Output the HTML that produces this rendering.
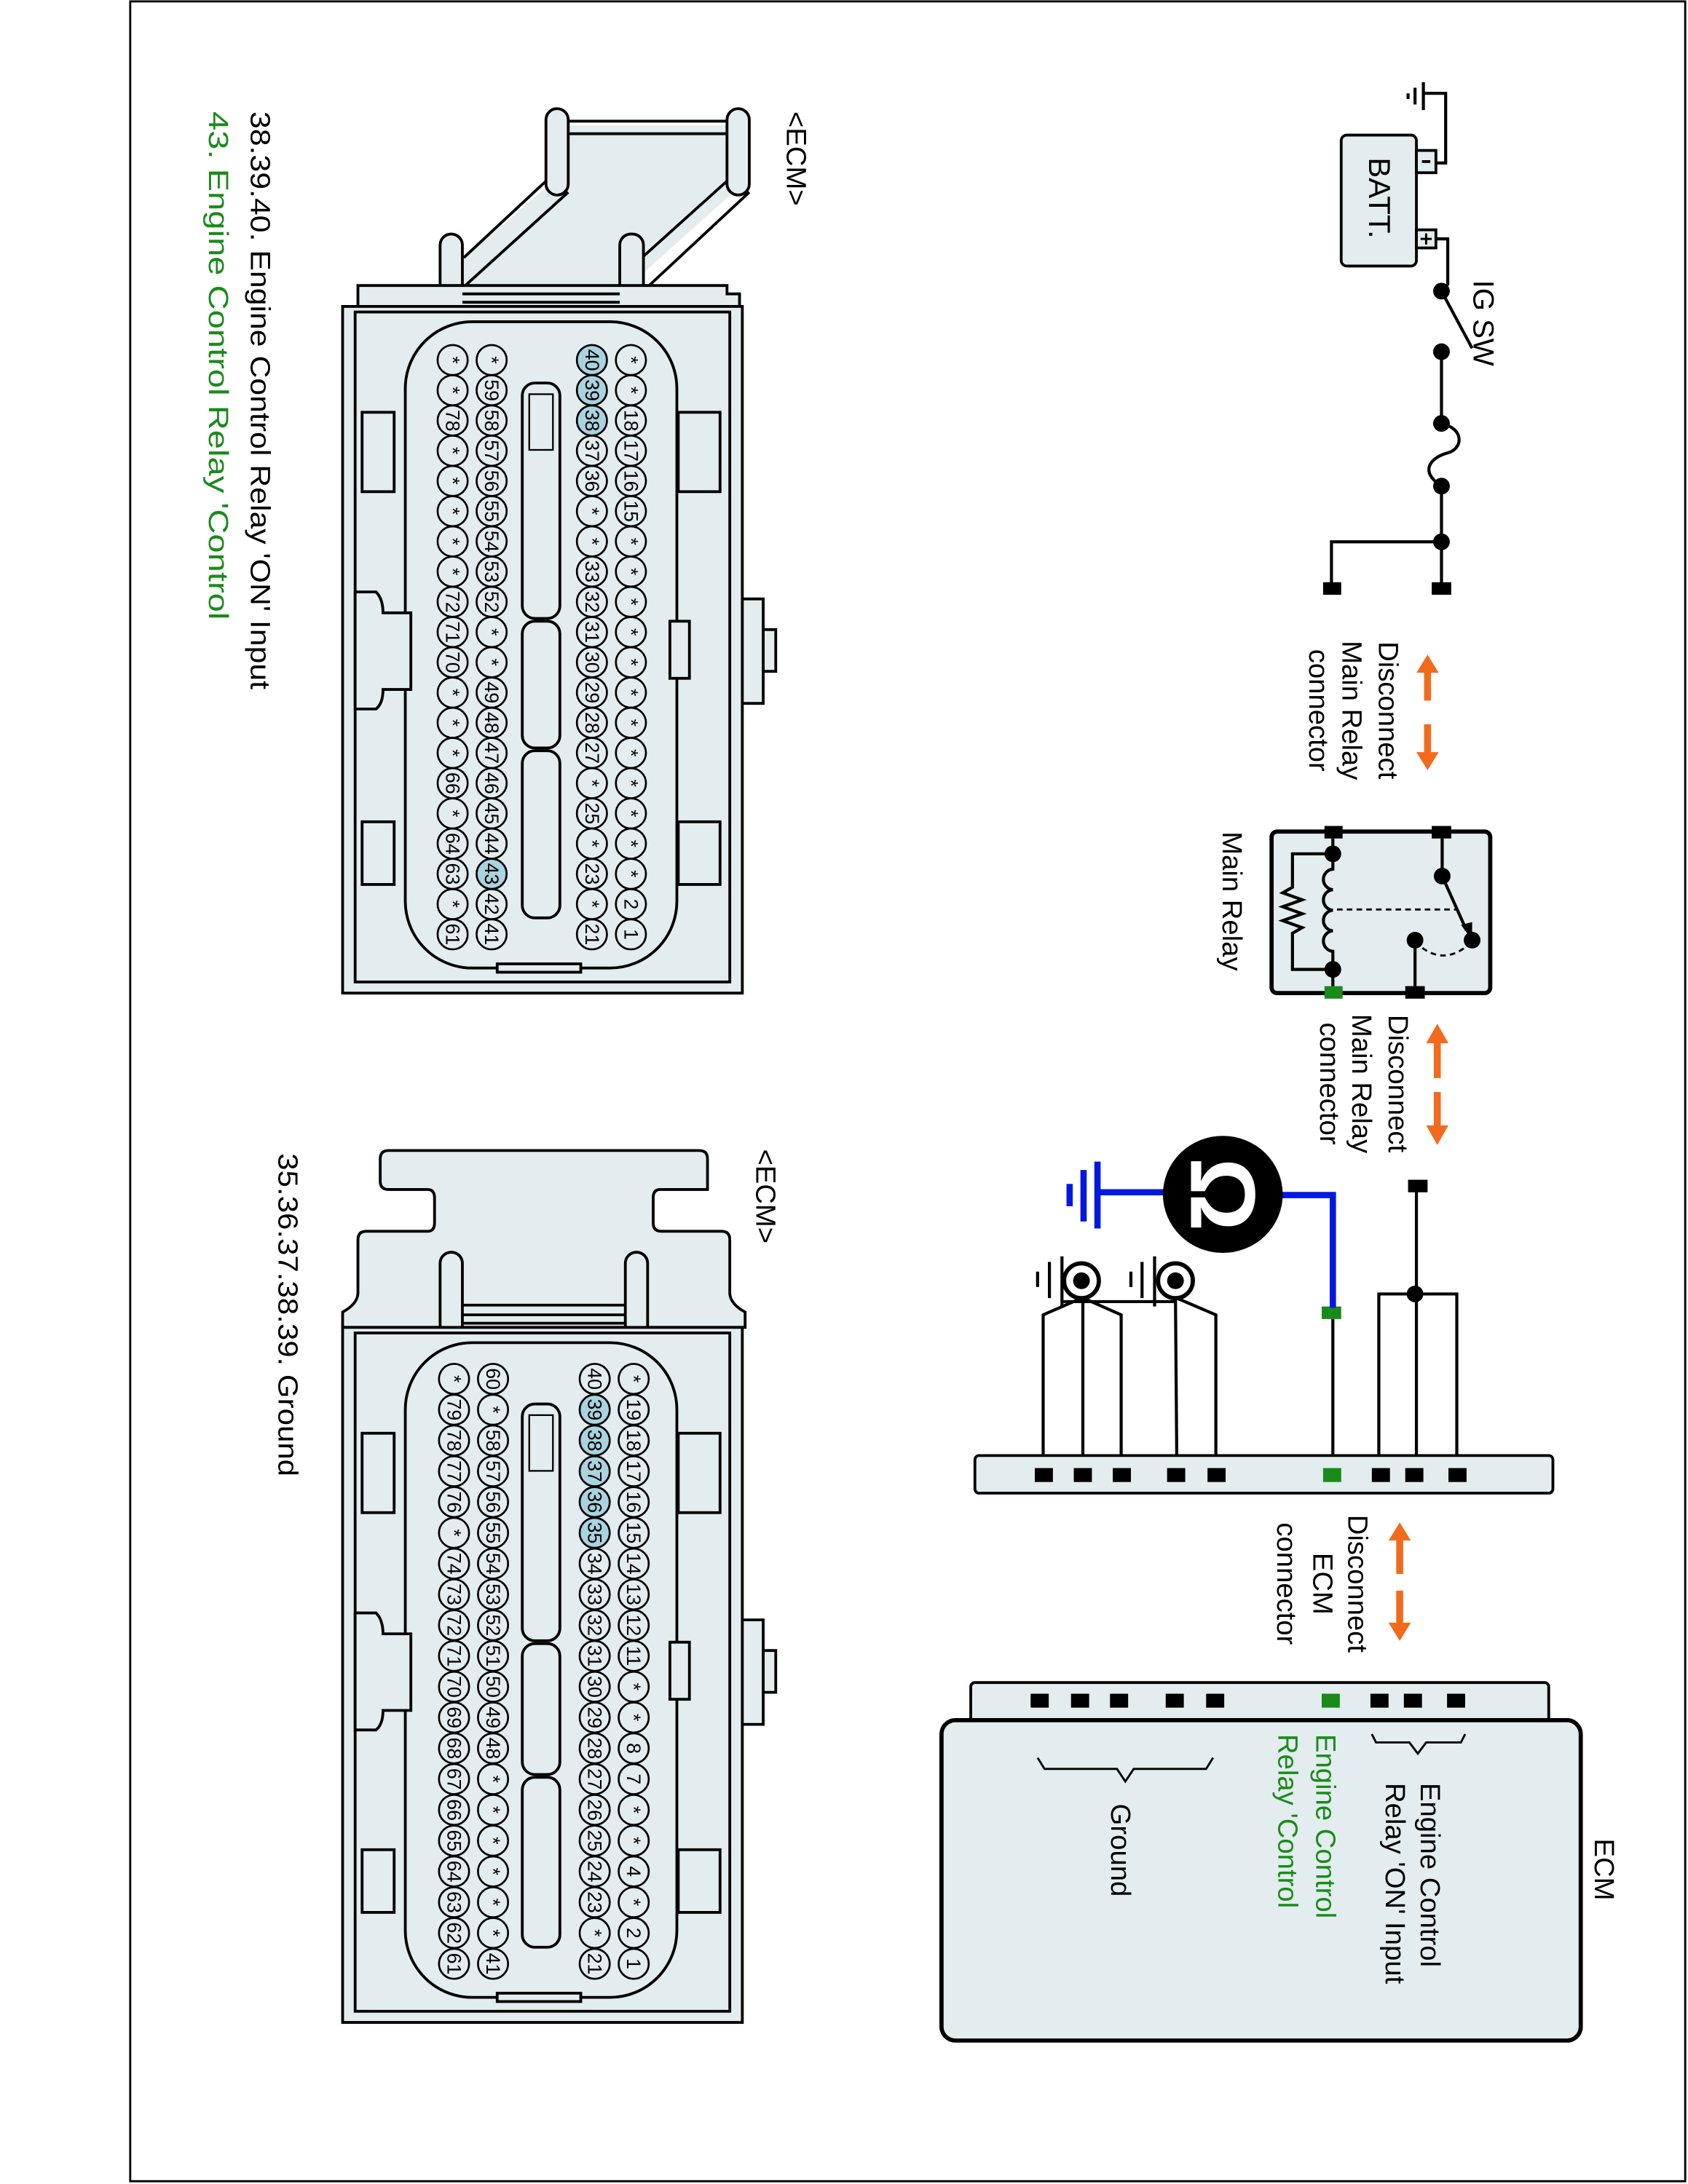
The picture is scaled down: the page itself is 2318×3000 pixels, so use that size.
<!DOCTYPE html>
<html><head><meta charset="utf-8"><style>
html,body{margin:0;padding:0;background:#fff;}
svg{display:block;}
text{font-family:"Liberation Sans",Arial,sans-serif;fill:#000;}
.pin circle{r:10.8px;fill:#e3ecee;stroke:#000;stroke-width:1.4;}
.pin circle.h{fill:#a9d3df;}
.pin text{font-size:14px;text-anchor:middle;dominant-baseline:central;}
.b{fill:#e3ecee;stroke:#000;stroke-width:2;}
.ln{fill:none;stroke:#000;stroke-width:2;}
.w{fill:none;stroke:#000;stroke-width:2.2;}
.lbl{font-size:20px;}
.g{fill:#1a8a1a;}
.or{fill:#f26b1d;}
</style></head><body>
<svg width="2318" height="3000" viewBox="0 0 1212 1568" preserveAspectRatio="none" xmlns="http://www.w3.org/2000/svg">
<rect x="0" y="0" width="1212" height="1568" fill="#fff"/>
<rect x="93.5" y="1" width="1116.5" height="1565" fill="none" stroke="#000" stroke-width="1.5"/>

<!-- ========== CONNECTOR 1 ========== -->
<g>
 <!-- latch band -->
 <polygon class="b" points="400,90 530,90 530,135 463,195 463,206 333,206 333,185 400,128" style="stroke:none"/>
 <rect class="b" x="392" y="78" width="16" height="62" rx="8"/>
 <rect class="b" x="522" y="78" width="16" height="62" rx="8"/>
 <path class="ln" d="M408,87 L522,87 M408,96 L522,96 M392,130 L333,185 M408,138 L333,206 M522,130 L462,184 M538,138 L465,206"/>
 <rect class="b" x="316" y="168" width="16" height="60" rx="8"/>
 <rect class="b" x="445" y="168" width="17" height="60" rx="8"/>
 <path class="b" d="M257,220 L257,205 L522,205 L522,211 L531,211 L531,220 Z"/>
 <path class="ln" d="M332,211 L445,211 M332,217 L445,217"/>
 <!-- body -->
 <rect class="b" x="246" y="220" width="287" height="493"/>
 <rect class="ln" x="255" y="224" width="269" height="481"/>
 <path class="b" d="M533,430 L548,430 L548,505 L533,505 Z M548,452 L557,452 L557,482 L548,482 Z"/>
 <rect class="b" x="291" y="231" width="195" height="464" rx="48"/>
 <rect class="b" x="260" y="296" width="23" height="57"/>
 <rect class="b" x="260" y="590" width="23" height="45"/>
 <rect class="b" x="487" y="296" width="30" height="57"/>
 <rect class="b" x="487" y="590" width="30" height="45"/>
 <path class="b" d="M255,425 L270,425 Q275,430 275,440 L295,440 L295,495 L275,495 Q275,505 270,509 L255,509 Z"/>
 <rect class="b" x="481" y="446" width="14" height="41"/>
 <rect class="b" x="357" y="692" width="60" height="6"/>
 <rect class="b" x="375" y="275" width="27" height="169" rx="9"/>
 <rect class="b" x="375" y="446" width="27" height="91" rx="9"/>
 <rect class="b" x="375" y="539" width="27" height="120" rx="9"/>
 <rect class="ln" x="380" y="283" width="17" height="40" style="stroke-width:1.2"/>
</g>
<!-- pins conn1 -->
<g class="pin" transform="translate(453,0) rotate(90)">
 <circle cx="258.5"/><circle cx="280.2"/><circle cx="301.9"/><circle cx="323.6"/><circle cx="345.3"/><circle cx="367"/><circle cx="388.7"/><circle cx="410.4"/><circle cx="432.1"/><circle cx="453.8"/><circle cx="475.5"/><circle cx="497.2"/><circle cx="518.9"/><circle cx="540.6"/><circle cx="562.3"/><circle cx="584"/><circle cx="605.7"/><circle cx="627.4"/><circle cx="649.1"/><circle cx="670.8"/>
 <text><tspan x="258.5">*</tspan><tspan x="280.2">*</tspan><tspan x="301.9">18</tspan><tspan x="323.6">17</tspan><tspan x="345.3">16</tspan><tspan x="367">15</tspan><tspan x="388.7">*</tspan><tspan x="410.4">*</tspan><tspan x="432.1">*</tspan><tspan x="453.8">*</tspan><tspan x="475.5">*</tspan><tspan x="497.2">*</tspan><tspan x="518.9">*</tspan><tspan x="540.6">*</tspan><tspan x="562.3">*</tspan><tspan x="584">*</tspan><tspan x="605.7">*</tspan><tspan x="627.4">*</tspan><tspan x="649.1">2</tspan><tspan x="670.8">1</tspan></text>
</g>
<g class="pin" transform="translate(425,0) rotate(90)">
 <circle class="h" cx="258.5"/><circle class="h" cx="280.2"/><circle class="h" cx="301.9"/><circle cx="323.6"/><circle cx="345.3"/><circle cx="367"/><circle cx="388.7"/><circle cx="410.4"/><circle cx="432.1"/><circle cx="453.8"/><circle cx="475.5"/><circle cx="497.2"/><circle cx="518.9"/><circle cx="540.6"/><circle cx="562.3"/><circle cx="584"/><circle cx="605.7"/><circle cx="627.4"/><circle cx="649.1"/><circle cx="670.8"/>
 <text><tspan x="258.5">40</tspan><tspan x="280.2">39</tspan><tspan x="301.9">38</tspan><tspan x="323.6">37</tspan><tspan x="345.3">36</tspan><tspan x="367">*</tspan><tspan x="388.7">*</tspan><tspan x="410.4">33</tspan><tspan x="432.1">32</tspan><tspan x="453.8">31</tspan><tspan x="475.5">30</tspan><tspan x="497.2">29</tspan><tspan x="518.9">28</tspan><tspan x="540.6">27</tspan><tspan x="562.3">*</tspan><tspan x="584">25</tspan><tspan x="605.7">*</tspan><tspan x="627.4">23</tspan><tspan x="649.1">*</tspan><tspan x="670.8">21</tspan></text>
</g>
<g class="pin" transform="translate(353,0) rotate(90)">
 <circle cx="258.5"/><circle cx="280.2"/><circle cx="301.9"/><circle cx="323.6"/><circle cx="345.3"/><circle cx="367"/><circle cx="388.7"/><circle cx="410.4"/><circle cx="432.1"/><circle cx="453.8"/><circle cx="475.5"/><circle cx="497.2"/><circle cx="518.9"/><circle cx="540.6"/><circle cx="562.3"/><circle cx="584"/><circle cx="605.7"/><circle class="h" cx="627.4"/><circle cx="649.1"/><circle cx="670.8"/>
 <text><tspan x="258.5">*</tspan><tspan x="280.2">59</tspan><tspan x="301.9">58</tspan><tspan x="323.6">57</tspan><tspan x="345.3">56</tspan><tspan x="367">55</tspan><tspan x="388.7">54</tspan><tspan x="410.4">53</tspan><tspan x="432.1">52</tspan><tspan x="453.8">*</tspan><tspan x="475.5">*</tspan><tspan x="497.2">49</tspan><tspan x="518.9">48</tspan><tspan x="540.6">47</tspan><tspan x="562.3">46</tspan><tspan x="584">45</tspan><tspan x="605.7">44</tspan><tspan x="627.4">43</tspan><tspan x="649.1">42</tspan><tspan x="670.8">41</tspan></text>
</g>
<g class="pin" transform="translate(325,0) rotate(90)">
 <circle cx="258.5"/><circle cx="280.2"/><circle cx="301.9"/><circle cx="323.6"/><circle cx="345.3"/><circle cx="367"/><circle cx="388.7"/><circle cx="410.4"/><circle cx="432.1"/><circle cx="453.8"/><circle cx="475.5"/><circle cx="497.2"/><circle cx="518.9"/><circle cx="540.6"/><circle cx="562.3"/><circle cx="584"/><circle cx="605.7"/><circle cx="627.4"/><circle cx="649.1"/><circle cx="670.8"/>
 <text><tspan x="258.5">*</tspan><tspan x="280.2">*</tspan><tspan x="301.9">78</tspan><tspan x="323.6">*</tspan><tspan x="345.3">*</tspan><tspan x="367">*</tspan><tspan x="388.7">*</tspan><tspan x="410.4">*</tspan><tspan x="432.1">72</tspan><tspan x="453.8">71</tspan><tspan x="475.5">70</tspan><tspan x="497.2">*</tspan><tspan x="518.9">*</tspan><tspan x="540.6">*</tspan><tspan x="562.3">66</tspan><tspan x="584">*</tspan><tspan x="605.7">64</tspan><tspan x="627.4">63</tspan><tspan x="649.1">*</tspan><tspan x="670.8">61</tspan></text>
</g>

<!-- ========== CONNECTOR 2 ========== -->
<path class="b" d="M273,832 Q273,826 279,826 L502,826 Q508,826 508,832 L508,854 L474,854 Q469,854 469,860 L469,878 Q469,884 475,884 L518,884 Q524,884 524,890 L524,928 Q524,936 535,942 L535,953 L246,953 L246,942 Q257,936 257,928 L257,890 Q257,884 263,884 L307,884 Q312,884 312,878 L312,860 Q312,854 307,854 L279,854 Q273,854 273,848 Z"/>
<rect class="b" x="316" y="899" width="16" height="60" rx="8"/>
<rect class="b" x="449" y="899" width="16" height="60" rx="8"/>
<path class="ln" d="M332,937 L449,937 M332,944 L449,944 M332,950 L449,950"/>
<g transform="translate(0,733)">
 <rect class="b" x="246" y="220" width="287" height="499"/>
 <rect class="ln" x="255" y="224" width="269" height="487"/>
 <path class="b" d="M533,430 L548,430 L548,505 L533,505 Z M548,452 L557,452 L557,482 L548,482 Z"/>
 <rect class="b" x="291" y="231" width="195" height="470" rx="48"/>
 <rect class="b" x="260" y="296" width="23" height="57"/>
 <rect class="b" x="260" y="595" width="23" height="45"/>
 <rect class="b" x="487" y="296" width="30" height="57"/>
 <rect class="b" x="487" y="595" width="30" height="45"/>
 <path class="b" d="M255,425 L270,425 Q275,430 275,440 L295,440 L295,495 L275,495 Q275,505 270,509 L255,509 Z"/>
 <rect class="b" x="481" y="446" width="14" height="41"/>
 <rect class="b" x="357" y="698" width="60" height="6"/>
 <rect class="b" x="375" y="275" width="27" height="170" rx="9"/>
 <rect class="b" x="375" y="447" width="27" height="94" rx="9"/>
 <rect class="b" x="375" y="543" width="27" height="122" rx="9"/>
 <rect class="ln" x="380" y="283" width="17" height="40" style="stroke-width:1.2"/>
</g>
<g class="pin" transform="translate(455,0) rotate(90)">
 <circle cx="990"/><circle cx="1012.1"/><circle cx="1034.2"/><circle cx="1056.3"/><circle cx="1078.4"/><circle cx="1100.5"/><circle cx="1122.6"/><circle cx="1144.7"/><circle cx="1166.8"/><circle cx="1188.9"/><circle cx="1211"/><circle cx="1233.1"/><circle cx="1255.2"/><circle cx="1277.3"/><circle cx="1299.4"/><circle cx="1321.5"/><circle cx="1343.6"/><circle cx="1365.7"/><circle cx="1387.8"/><circle cx="1409.9"/>
 <text><tspan x="990">*</tspan><tspan x="1012.1">19</tspan><tspan x="1034.2">18</tspan><tspan x="1056.3">17</tspan><tspan x="1078.4">16</tspan><tspan x="1100.5">15</tspan><tspan x="1122.6">14</tspan><tspan x="1144.7">13</tspan><tspan x="1166.8">12</tspan><tspan x="1188.9">11</tspan><tspan x="1211">*</tspan><tspan x="1233.1">*</tspan><tspan x="1255.2">8</tspan><tspan x="1277.3">7</tspan><tspan x="1299.4">*</tspan><tspan x="1321.5">*</tspan><tspan x="1343.6">4</tspan><tspan x="1365.7">*</tspan><tspan x="1387.8">2</tspan><tspan x="1409.9">1</tspan></text>
</g>
<g class="pin" transform="translate(427,0) rotate(90)">
 <circle cx="990"/><circle class="h" cx="1012.1"/><circle class="h" cx="1034.2"/><circle class="h" cx="1056.3"/><circle class="h" cx="1078.4"/><circle class="h" cx="1100.5"/><circle cx="1122.6"/><circle cx="1144.7"/><circle cx="1166.8"/><circle cx="1188.9"/><circle cx="1211"/><circle cx="1233.1"/><circle cx="1255.2"/><circle cx="1277.3"/><circle cx="1299.4"/><circle cx="1321.5"/><circle cx="1343.6"/><circle cx="1365.7"/><circle cx="1387.8"/><circle cx="1409.9"/>
 <text><tspan x="990">40</tspan><tspan x="1012.1">39</tspan><tspan x="1034.2">38</tspan><tspan x="1056.3">37</tspan><tspan x="1078.4">36</tspan><tspan x="1100.5">35</tspan><tspan x="1122.6">34</tspan><tspan x="1144.7">33</tspan><tspan x="1166.8">32</tspan><tspan x="1188.9">31</tspan><tspan x="1211">30</tspan><tspan x="1233.1">29</tspan><tspan x="1255.2">28</tspan><tspan x="1277.3">27</tspan><tspan x="1299.4">26</tspan><tspan x="1321.5">25</tspan><tspan x="1343.6">24</tspan><tspan x="1365.7">23</tspan><tspan x="1387.8">*</tspan><tspan x="1409.9">21</tspan></text>
</g>
<g class="pin" transform="translate(354,0) rotate(90)">
 <circle cx="990"/><circle cx="1012.1"/><circle cx="1034.2"/><circle cx="1056.3"/><circle cx="1078.4"/><circle cx="1100.5"/><circle cx="1122.6"/><circle cx="1144.7"/><circle cx="1166.8"/><circle cx="1188.9"/><circle cx="1211"/><circle cx="1233.1"/><circle cx="1255.2"/><circle cx="1277.3"/><circle cx="1299.4"/><circle cx="1321.5"/><circle cx="1343.6"/><circle cx="1365.7"/><circle cx="1387.8"/><circle cx="1409.9"/>
 <text><tspan x="990">60</tspan><tspan x="1012.1">*</tspan><tspan x="1034.2">58</tspan><tspan x="1056.3">57</tspan><tspan x="1078.4">56</tspan><tspan x="1100.5">55</tspan><tspan x="1122.6">54</tspan><tspan x="1144.7">53</tspan><tspan x="1166.8">52</tspan><tspan x="1188.9">51</tspan><tspan x="1211">50</tspan><tspan x="1233.1">49</tspan><tspan x="1255.2">48</tspan><tspan x="1277.3">*</tspan><tspan x="1299.4">*</tspan><tspan x="1321.5">*</tspan><tspan x="1343.6">*</tspan><tspan x="1365.7">*</tspan><tspan x="1387.8">*</tspan><tspan x="1409.9">41</tspan></text>
</g>
<g class="pin" transform="translate(326,0) rotate(90)">
 <circle cx="990"/><circle cx="1012.1"/><circle cx="1034.2"/><circle cx="1056.3"/><circle cx="1078.4"/><circle cx="1100.5"/><circle cx="1122.6"/><circle cx="1144.7"/><circle cx="1166.8"/><circle cx="1188.9"/><circle cx="1211"/><circle cx="1233.1"/><circle cx="1255.2"/><circle cx="1277.3"/><circle cx="1299.4"/><circle cx="1321.5"/><circle cx="1343.6"/><circle cx="1365.7"/><circle cx="1387.8"/><circle cx="1409.9"/>
 <text><tspan x="990">*</tspan><tspan x="1012.1">79</tspan><tspan x="1034.2">78</tspan><tspan x="1056.3">77</tspan><tspan x="1078.4">76</tspan><tspan x="1100.5">*</tspan><tspan x="1122.6">74</tspan><tspan x="1144.7">73</tspan><tspan x="1166.8">72</tspan><tspan x="1188.9">71</tspan><tspan x="1211">70</tspan><tspan x="1233.1">69</tspan><tspan x="1255.2">68</tspan><tspan x="1277.3">67</tspan><tspan x="1299.4">66</tspan><tspan x="1321.5">65</tspan><tspan x="1343.6">64</tspan><tspan x="1365.7">63</tspan><tspan x="1387.8">62</tspan><tspan x="1409.9">61</tspan></text>
</g>

<!-- left labels -->
<text class="lbl" transform="translate(565,80) rotate(90)">&lt;ECM&gt;</text>
<text class="lbl" transform="translate(180,80) rotate(90)" textLength="415" lengthAdjust="spacingAndGlyphs">38.39.40. Engine Control Relay 'ON' Input</text>
<text class="lbl g" transform="translate(150,80) rotate(90)" textLength="365" lengthAdjust="spacingAndGlyphs">43. Engine Control Relay 'Control</text>
<text class="lbl" transform="translate(543,825) rotate(90)">&lt;ECM&gt;</text>
<text class="lbl" transform="translate(200,828) rotate(90)" textLength="232" lengthAdjust="spacingAndGlyphs">35.36.37.38.39. Ground</text>

<!-- ========== UPPER WIRING ========== -->
<path class="w" d="M1011,67 L1011,71 M1016,63 L1016,75 M1022,59 L1022,79 M1022,67 L1038,67 L1038,117 L1031,117"/>
<rect class="b" x="963" y="97" width="54" height="94" rx="4"/>
<rect class="b" x="1017" y="108" width="14" height="16"/>
<rect class="b" x="1017" y="165" width="14" height="13"/>
<path d="M1021,116 L1027,116" stroke="#000" stroke-width="2"/>
<path d="M1020,171.5 L1028,171.5 M1024,167.5 L1024,175.5" stroke="#000" stroke-width="1.6"/>
<text transform="translate(983,113) rotate(90)" style="font-size:22px">BATT.</text>
<path class="w" d="M1031,171.5 L1039.5,171.5 L1039.5,205 M1035,209 L1057,250 M1035,252 L1035,304 M1035,304 C1052,308 1050,322 1040,325 C1028,328 1018,338 1035,349 M1035,349 L1035,389 L1035,422 M1035,389 L956,389 L956,422"/>
<circle cx="1035" cy="209" r="6"/><circle cx="1035" cy="252.5" r="6"/><circle cx="1035" cy="304" r="6"/><circle cx="1035" cy="349" r="6"/><circle cx="1035" cy="389" r="6"/>
<rect x="950" y="418" width="13" height="9"/><rect x="1028" y="418" width="14" height="9"/>
<text class="lbl" transform="translate(1058,201) rotate(90)" style="font-size:21px">IG SW</text>

<!-- disconnect 1 -->
<g class="or"><polygon points="1025,470 1017,483 1022.5,483 1022.5,503 1027.5,503 1027.5,483 1033,483"/><polygon points="1025,553 1017,540 1022.5,540 1022.5,520 1027.5,520 1027.5,540 1033,540"/></g>
<g class="lbl" style="text-anchor:middle">
<text transform="translate(990,510) rotate(90)">Disconnect</text>
<text transform="translate(964,510) rotate(90)">Main Relay</text>
<text transform="translate(940,510) rotate(90)">connector</text>
</g>

<!-- main relay -->
<rect class="b" x="913" y="597" width="157" height="116" rx="4" style="stroke-width:3"/>
<rect x="951" y="593" width="13" height="9"/><rect x="1028" y="593" width="14" height="9"/>
<rect x="951" y="708" width="13" height="9" fill="#1a8a1a"/><rect x="1009" y="708" width="14" height="9"/>
<path class="w" d="M957,602 L957,624 a7.4,7.4 0 0 0 0,14.75 a7.4,7.4 0 0 0 0,14.75 a7.4,7.4 0 0 0 0,14.75 a7.4,7.4 0 0 0 0,14.75 L957,708 M957,613 L928,613 L928,637 L921,641 L935,646 L921,651 L935,656 L921,661 L935,666 L928,670 L928,696 L957,696"/>
<circle cx="957" cy="613" r="6"/><circle cx="957" cy="696" r="6"/>
<path d="M960,653 L1046,653" stroke="#000" stroke-width="1.5" stroke-dasharray="4,3" fill="none"/>
<path class="w" d="M1035.5,602 L1035.5,629 L1053,668"/>
<polygon points="1057,675 1049,664 1057,662"/>
<circle cx="1035.5" cy="629" r="6"/><circle cx="1057" cy="675" r="6"/><circle cx="1016" cy="675" r="6"/>
<path class="w" d="M1016,675 L1016,708"/>
<path d="M1016,676 Q1036,696 1057,676" stroke="#000" stroke-width="1.5" stroke-dasharray="4,3" fill="none"/>
<text class="lbl" transform="translate(878,597) rotate(90)">Main Relay</text>

<!-- disconnect 2 -->
<g class="or"><polygon points="1032,735 1024,749 1029.5,749 1029.5,774 1034.5,774 1034.5,749 1040,749"/><polygon points="1032,822 1024,808 1029.5,808 1029.5,784 1034.5,784 1034.5,808 1040,808"/></g>
<g class="lbl" style="text-anchor:middle">
<text transform="translate(997,778) rotate(90)">Disconnect</text>
<text transform="translate(971,778) rotate(90)">Main Relay</text>
<text transform="translate(948,778) rotate(90)">connector</text>
</g>

<!-- middle wiring -->
<rect x="1011" y="847" width="14" height="9"/>
<path class="w" d="M1017,855 L1017,1055 M990,1055 L990,929 L1046,929 L1046,1055"/>
<circle cx="1016" cy="929" r="6"/>
<rect x="949" y="938" width="14" height="9" fill="#1a8a1a"/>
<path class="w" d="M957,947 L957,1055"/>
<path d="M957,939 L957,858 L918,858 M838,856 L789,856 M788,834 L788,882 M778,840 L778,877 M768,850 L768,866" stroke="#0018e0" stroke-width="4.5" fill="none"/>
<ellipse cx="878" cy="857.5" rx="43" ry="42"/>
<text transform="translate(878,857.5) rotate(90)" style="font-size:66px;font-weight:bold;fill:#fff;text-anchor:middle;dominant-baseline:central">Ω</text>
<!-- grounds -->
<path class="w" d="M745,913 L745,924 M753.5,906 L753.5,932 M762.5,902 L762.5,938 M812,913 L812,924 M820,906 L820,932 M829,902 L829,938 M762,934.5 L845,934.5"/>
<circle cx="776.5" cy="919.5" r="12.5" fill="#fff" stroke="#000" stroke-width="3"/><circle cx="776.5" cy="919.5" r="6"/>
<circle cx="844" cy="919.5" r="12.5" fill="#fff" stroke="#000" stroke-width="3"/><circle cx="844" cy="919.5" r="6"/>
<path class="w" d="M776.5,932 L749,944 L749,1055 M777.5,932 L777.5,1055 M778,932 L805,944 L805,1055 M844,932 L845,1055 M845,932 L873,944 L873,1055"/>
<!-- harness strip -->
<rect class="b" x="700" y="1045" width="415" height="27" rx="3"/>
<g><rect x="743" y="1054" width="13" height="10"/><rect x="771" y="1054" width="13" height="10"/><rect x="799" y="1054" width="13" height="10"/><rect x="838" y="1054" width="13" height="10"/><rect x="867" y="1054" width="13" height="10"/><rect x="950" y="1054" width="13" height="10" fill="#1a8a1a"/><rect x="985" y="1054" width="13" height="10"/><rect x="1009" y="1054" width="13" height="10"/><rect x="1040" y="1054" width="13" height="10"/></g>

<!-- disconnect ECM -->
<g class="or"><polygon points="1005,1093 997,1106 1002.5,1106 1002.5,1130 1007.5,1130 1007.5,1106 1013,1106"/><polygon points="1005,1178 997,1165 1002.5,1165 1002.5,1142 1007.5,1142 1007.5,1165 1013,1165"/></g>
<g class="lbl" style="text-anchor:middle">
<text transform="translate(968,1137) rotate(90)">Disconnect</text>
<text transform="translate(943,1137) rotate(90)">ECM</text>
<text transform="translate(917,1137) rotate(90)">connector</text>
</g>

<!-- ECM -->
<rect class="b" x="697" y="1208" width="415" height="30" rx="3"/>
<rect class="b" x="676" y="1235" width="459" height="230" rx="10" style="stroke-width:3"/>
<g><rect x="740" y="1216" width="13" height="10"/><rect x="769" y="1216" width="13" height="10"/><rect x="797" y="1216" width="13" height="10"/><rect x="837" y="1216" width="13" height="10"/><rect x="866" y="1216" width="13" height="10"/><rect x="949" y="1216" width="13" height="10" fill="#1a8a1a"/><rect x="984" y="1216" width="13" height="10"/><rect x="1008" y="1216" width="13" height="10"/><rect x="1039" y="1216" width="13" height="10"/></g>
<path d="M985,1245 L988,1251 L1012,1251 L1018,1259 L1024,1251 L1049,1251 L1052,1245" fill="none" stroke="#000" stroke-width="1.5"/>
<path d="M745,1262 L750,1270 L802,1270 L808,1279 L814,1270 L866,1270 L871,1262" fill="none" stroke="#000" stroke-width="1.5"/>
<text class="lbl" transform="translate(1145,1320) rotate(90)">ECM</text>
<text class="lbl" transform="translate(1020,1280) rotate(90)">Engine Control</text>
<text class="lbl" transform="translate(995,1280) rotate(90)">Relay 'ON' Input</text>
<text class="lbl g" transform="translate(945,1245) rotate(90)">Engine Control</text>
<text class="lbl g" transform="translate(918,1245) rotate(90)">Relay 'Control</text>
<text class="lbl" transform="translate(798,1295) rotate(90)">Ground</text>
</svg>
</body></html>
